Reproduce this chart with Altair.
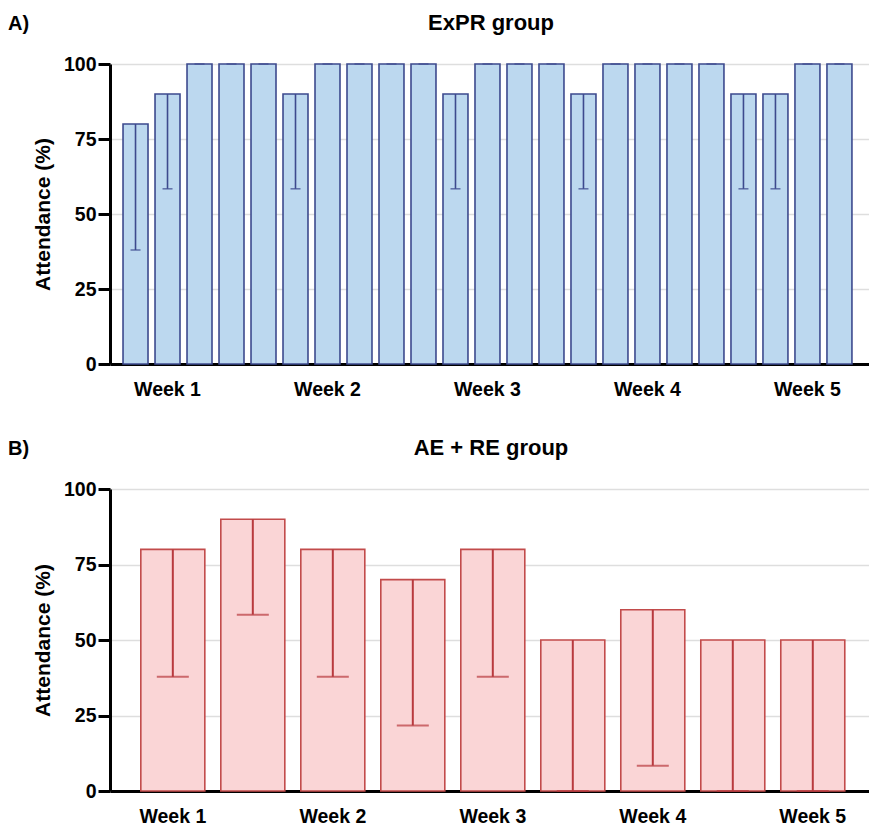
import altair as alt
import pandas as pd

# ---- data ----
expr_sessions = list(range(1, 24))
expr_attendance = [80, 90, 100, 100, 100, 90, 100, 100, 100, 100, 90, 100,
                   100, 100, 90, 100, 100, 100, 100, 90, 90, 100, 100]
expr_lower = [38, 58.4, 100, 100, 100, 58.4, 100, 100, 100, 100, 58.4, 100,
              100, 100, 58.4, 100, 100, 100, 100, 58.4, 58.4, 100, 100]
expr_week_ticks = [2, 7, 12, 17, 22]

ae_sessions = list(range(1, 10))
ae_attendance = [80, 90, 80, 70, 80, 50, 60, 50, 50]
ae_lower = [37.8, 58.4, 37.8, 21.7, 37.8, 0, 8.4, 0, 0]
ae_week_ticks = [1, 3, 5, 7, 9]

week_labels = ["Week 1", "Week 2", "Week 3", "Week 4", "Week 5"]
y_ticks = [0, 25, 50, 75, 100]

FONT = "Liberation Sans"


def label_expr(ticks, labels):
    expr = "''"
    for t, l in reversed(list(zip(ticks, labels))):
        expr = f"datum.value == {t} ? '{l}' : ({expr})"
    return expr


def panel(sessions, att, low, ticks, title, letter, fill, stroke, err_color,
          height, pi, po, align, cap_size, err_w):
    df = pd.DataFrame({"session": sessions, "attendance": att, "lower": low})
    x = alt.X(
        "session:O",
        scale=alt.Scale(paddingInner=pi, paddingOuter=po, align=align),
        axis=alt.Axis(
            title=None, values=ticks, labelExpr=label_expr(ticks, week_labels),
            labelAngle=0, ticks=False, grid=False, domainWidth=3,
            domainColor="black", labelPadding=16, labelFontSize=19.5,
            labelFontWeight="bold", labelColor="black", labelFont=FONT,
        ),
    )
    y = alt.Y(
        "attendance:Q",
        scale=alt.Scale(domain=[0, 100], nice=False),
        axis=alt.Axis(
            title="Attendance (%)", values=y_ticks, tickSize=12, tickWidth=3,
            tickColor="black", domainWidth=3, domainColor="black",
            gridColor="#dedede", gridWidth=1.5, labelPadding=2,
            titlePadding=10, labelFontSize=19.5, labelFontWeight="bold",
            labelColor="black", labelFont=FONT, titleFont=FONT,
            titleFontSize=21, titleFontWeight="bold", titleColor="black",
        ),
    )
    bars = alt.Chart(df).mark_bar(fill=fill, stroke=stroke, strokeWidth=1.6).encode(x=x, y=y)
    err = alt.Chart(df).mark_rule(color=err_color, strokeWidth=err_w).encode(
        x="session:O", y="attendance:Q", y2="lower:Q")
    cap = alt.Chart(df).mark_tick(color=err_color, size=cap_size, thickness=err_w).encode(
        x="session:O", y="lower:Q")
    title_t = alt.Chart(pd.DataFrame({"t": [title]})).mark_text(
        font=FONT, fontSize=22, fontWeight="bold", color="black",
        align="center", baseline="alphabetic").encode(
        text="t:N", x=alt.value(381), y=alt.value(-34))
    letter_t = alt.Chart(pd.DataFrame({"t": [letter]})).mark_text(
        font=FONT, fontSize=20, fontWeight="bold", color="black",
        align="left", baseline="alphabetic").encode(
        text="t:N", x=alt.value(-102), y=alt.value(-34))
    return alt.layer(bars, err, cap, title_t, letter_t).properties(width=759, height=height)


top = panel(expr_sessions, expr_attendance, expr_lower, expr_week_ticks,
            "ExPR group", "A)", "#bcd8ef", "#3d4a8e", "#3d4a8e",
            300, 0.219, 0.47, 0.433, 10, 1.6)
bottom = panel(ae_sessions, ae_attendance, ae_lower, ae_week_ticks,
               "AE  + RE group", "B)", "#fad5d6", "#c24b4b", "#b83a3e",
               302, 0.2, 0.344, 0.56, 32, 2)

chart = alt.vconcat(top, bottom, spacing=38).configure_view(stroke=None).properties(
    padding={"left": 8, "top": 12, "right": 0, "bottom": 0})

chart.save("out.html", embed_options={"renderer": "svg", "actions": False})
